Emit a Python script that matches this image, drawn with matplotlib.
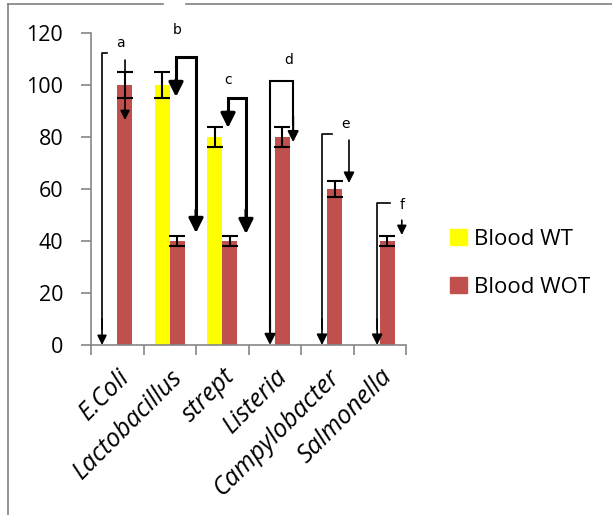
import matplotlib
matplotlib.use("Agg")
import matplotlib.pyplot as plt
import matplotlib.transforms as mtransforms
import numpy as np
from matplotlib.lines import Line2D

categories = ["E.Coli", "Lactobacillus", "strept", "Listeria", "Campylobacter", "Salmonella"]
wt_values = [0, 100, 80, 0, 0, 0]
wt_errors = [0, 5, 4, 0, 0, 0]
wot_values = [100, 40, 40, 80, 60, 40]
wot_errors = [5, 2, 2, 4, 3, 2]
y_ticks = [0, 20, 40, 60, 80, 100, 120]
series_names = ["Blood WT", "Blood WOT"]
letters = ["a", "b", "c", "d", "e", "f"]

plt.rcParams['font.family'] = ['Open Sans', 'DejaVu Sans']

W, H = 612, 515
fig = plt.figure(figsize=(W / 100, H / 100), dpi=100)
ax = fig.add_axes([91 / W, 1 - 345 / H, (406 - 91) / W, (345 - 33) / H])

x = np.arange(len(categories))
bw = 0.286
yellow = "#FFFF00"
red = "#C0504D"
ax.bar(x - bw / 2, wt_values, bw, color=yellow, label=series_names[0], zorder=2)
ax.bar(x + bw / 2, wot_values, bw, color=red, label=series_names[1], zorder=2)

wt_x = [xi - bw / 2 for xi, e in zip(x, wt_errors) if e > 0]
wt_y = [v for v, e in zip(wt_values, wt_errors) if e > 0]
wt_e = [e for e in wt_errors if e > 0]
ax.errorbar(wt_x, wt_y, yerr=wt_e, fmt='none', ecolor='black', elinewidth=1.5,
            capsize=6, capthick=1.5, zorder=3)
ax.errorbar(x + bw / 2, wot_values, yerr=wot_errors, fmt='none', ecolor='black',
            elinewidth=1.5, capsize=6, capthick=1.5, zorder=3)

ax.set_xlim(-0.5, len(categories) - 0.5)
ax.set_ylim(0, 120)
ax.set_yticks(y_ticks)
ax.set_yticklabels([str(t) for t in y_ticks], fontsize=15.5)
ax.set_xticks(x)
ax.set_xticklabels(categories, rotation=45, ha='right', rotation_mode='anchor',
                   fontsize=18, style='italic')
shift = mtransforms.ScaledTranslation(-5 / 100, 0, fig.dpi_scale_trans)
for lab in ax.get_xticklabels():
    lab.set_transform(lab.get_transform() + shift)
ax.set_xticks(np.arange(-0.5, len(categories)), minor=True)
ax.tick_params(axis='x', which='major', length=0, pad=14)
ax.tick_params(axis='x', which='minor', length=7, color='#868686', width=1.2)
ax.tick_params(axis='y', length=7, color='#868686', width=1.2, pad=13)
for s in ['top', 'right']:
    ax.spines[s].set_visible(False)
for s in ['left', 'bottom']:
    ax.spines[s].set_color('#868686')
    ax.spines[s].set_linewidth(1.2)

def arrow(xa, y0, y1, lw, ms):
    ax.annotate('', xy=(xa, y1), xytext=(xa, y0), annotation_clip=False,
                arrowprops=dict(arrowstyle='-|>', color='black', lw=lw,
                                mutation_scale=ms, shrinkA=0, shrinkB=0), zorder=5)

# a
ax.plot([-0.195, -0.29, -0.29], [112.3, 112.3, 6], color='black', lw=1.2, clip_on=False, zorder=4)
arrow(-0.29, 10, 0, 1.2, 14)
arrow(0.148, 109.6, 86.5, 1.2, 14)
# b
ax.plot([1.119, 1.119, 1.5, 1.5], [100, 110.8, 110.8, 50], color='black', lw=2.2,
        clip_on=False, zorder=4, solid_joinstyle='miter')
arrow(1.119, 102, 95.4, 2.2, 22)
arrow(1.5, 52, 43.1, 2.2, 22)
# c
ax.plot([2.11, 2.11, 2.452, 2.452], [88, 95, 95, 50], color='black', lw=2.2,
        clip_on=False, zorder=4, solid_joinstyle='miter')
arrow(2.11, 90, 83.5, 2.2, 22)
arrow(2.452, 52, 42.7, 2.2, 22)
# d
ax.plot([3.35, 3.35, 2.91, 2.91], [85, 101.5, 101.5, 6], color='black', lw=1.5,
        clip_on=False, zorder=4, solid_joinstyle='miter')
arrow(3.35, 88, 78, 1.5, 16)
arrow(2.91, 10, 0, 1.5, 16)
# e
ax.plot([4.09, 3.9, 3.9], [81.2, 81.2, 6], color='black', lw=1.2, clip_on=False, zorder=4)
arrow(3.9, 10, 0, 1.2, 16)
arrow(4.414, 78.8, 62.3, 1.2, 16)
# f
ax.plot([5.19, 4.95, 4.95], [54.6, 54.6, 6], color='black', lw=1.2, clip_on=False, zorder=4)
arrow(4.95, 10, 0, 1.2, 16)
arrow(5.42, 48, 42.3, 1.2, 14)

label_pos = [(0.052, 116), (1.138, 121), (2.11, 102), (3.27, 109.6), (4.34, 85), (5.42, 53.8)]
for lt, (lx, ly) in zip(letters, label_pos):
    ax.text(lx, ly, lt, fontsize=10, family='DejaVu Sans Condensed', ha='center',
            va='center', clip_on=False)

# legend
handles = [plt.Rectangle((0, 0), 1, 1, color=yellow), plt.Rectangle((0, 0), 1, 1, color=red)]
fig.legend(handles, series_names, loc='upper left', bbox_to_anchor=(441 / W, 1 - 220 / H),
           frameon=False, fontsize=16, handlelength=0.75, handleheight=0.75,
           handletextpad=0.35, labelspacing=1.2, borderaxespad=0)

# outer frame
fig.add_artist(Line2D([8 / W, 8 / W], [0, 1 - 4 / H], color='#808080', lw=1.2))
fig.add_artist(Line2D([8 / W, 163 / W], [1 - 4 / H, 1 - 4 / H], color='#808080', lw=1.2))
fig.add_artist(Line2D([186 / W, 1], [1 - 4 / H, 1 - 4 / H], color='#808080', lw=1.2))

fig.savefig("out.png", dpi=100)
